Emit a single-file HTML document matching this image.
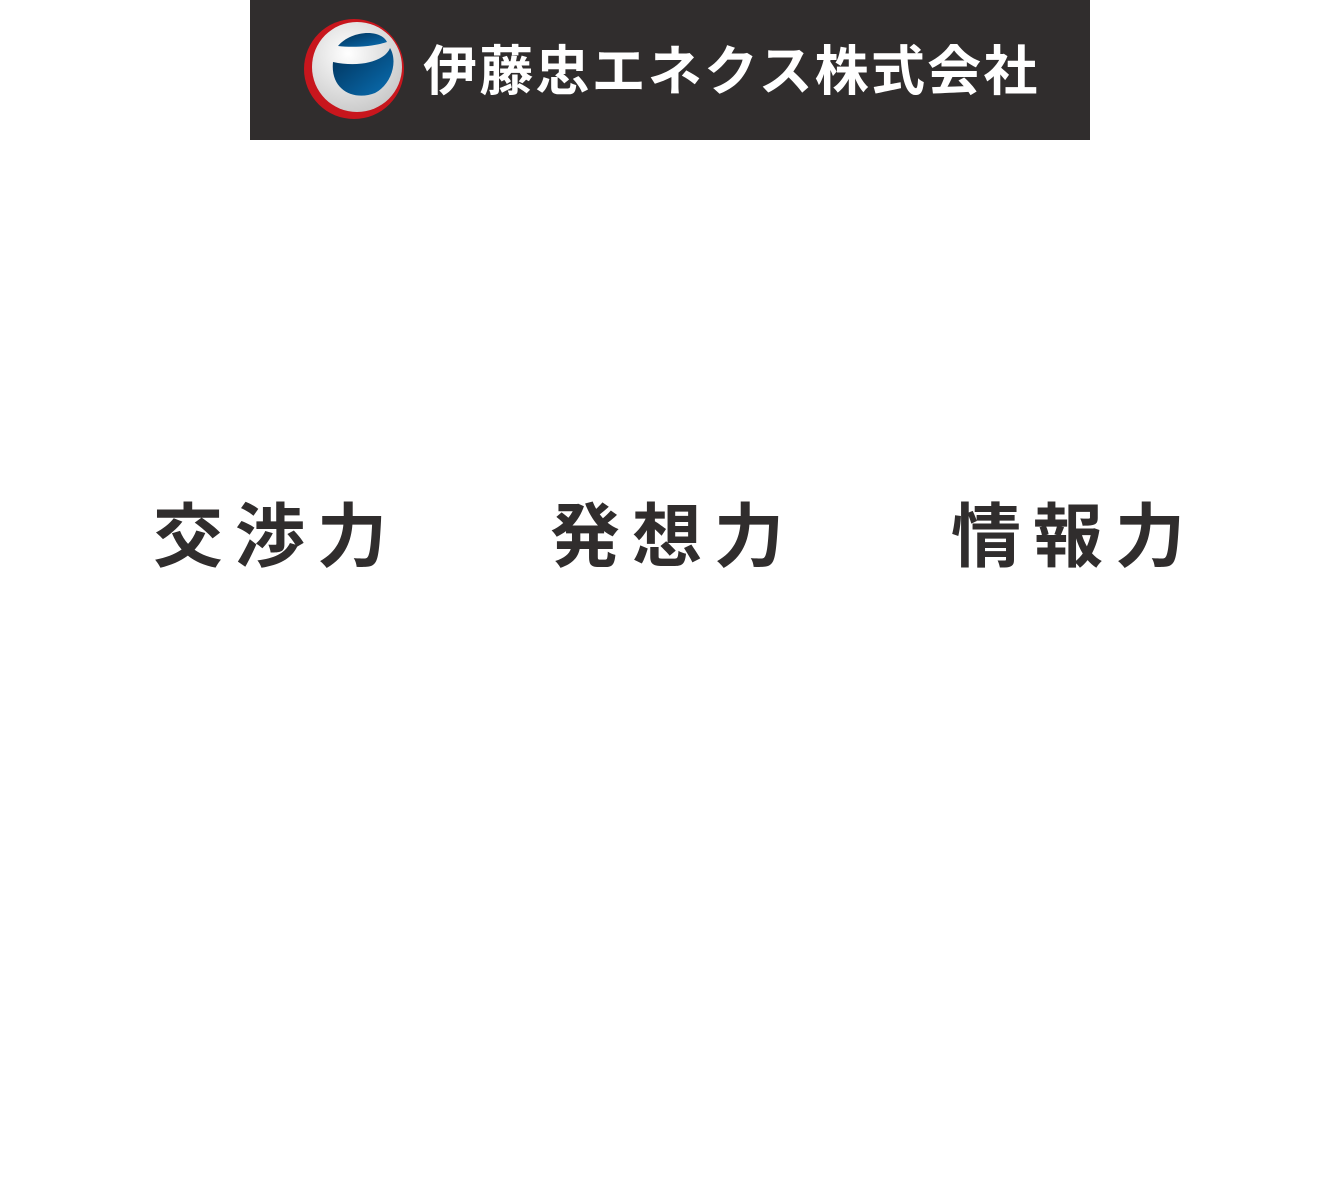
<!DOCTYPE html>
<html><head><meta charset="utf-8"><style>
body{margin:0;width:1340px;height:1190px;background:#fff;position:relative;overflow:hidden;font-family:"Liberation Sans","Noto Sans CJK JP",sans-serif}
.hdr{position:absolute;left:250px;top:0;width:840px;height:140px;background:#302d2d}
.name{position:absolute;left:423px;top:37px;font-size:54px;font-weight:bold;color:#fff;letter-spacing:2.2px;line-height:70px;white-space:nowrap}
.w{position:absolute;top:492px;font-size:70px;font-weight:bold;color:#302d2d;letter-spacing:12px;line-height:90px;white-space:nowrap;width:300px;text-align:center}
</style></head><body>
<div class="hdr"></div>
<svg style="position:absolute;left:300px;top:16px" width="110" height="110" viewBox="0 0 110 110">
<defs><linearGradient id="b" x1="0" y1="0" x2="1" y2="1"><stop offset="0" stop-color="#003057"/><stop offset="1" stop-color="#0a6fb3"/></linearGradient>
<radialGradient id="g" cx="0.4" cy="0.35" r="0.7"><stop offset="0" stop-color="#fff"/><stop offset="1" stop-color="#c8c8c8"/></radialGradient></defs>
<circle cx="54" cy="53" r="50" fill="#c8161d"/>
<circle cx="57" cy="51" r="45" fill="url(#g)"/>
<path d="M33 46 C30 75 55 85 75 77 C92 68 98 45 90 32 C85 45 60 52 33 46Z" fill="url(#b)"/>
<path d="M38 30 C50 15 80 12 87 26 C75 30 55 32 38 30Z" fill="url(#b)"/>
</svg>
<div class="name">伊藤忠エネクス株式会社</div>
<div class="w" style="left:126px">交渉力</div>
<div class="w" style="left:523px">発想力</div>
<div class="w" style="left:924px">情報力</div>
</body></html>
